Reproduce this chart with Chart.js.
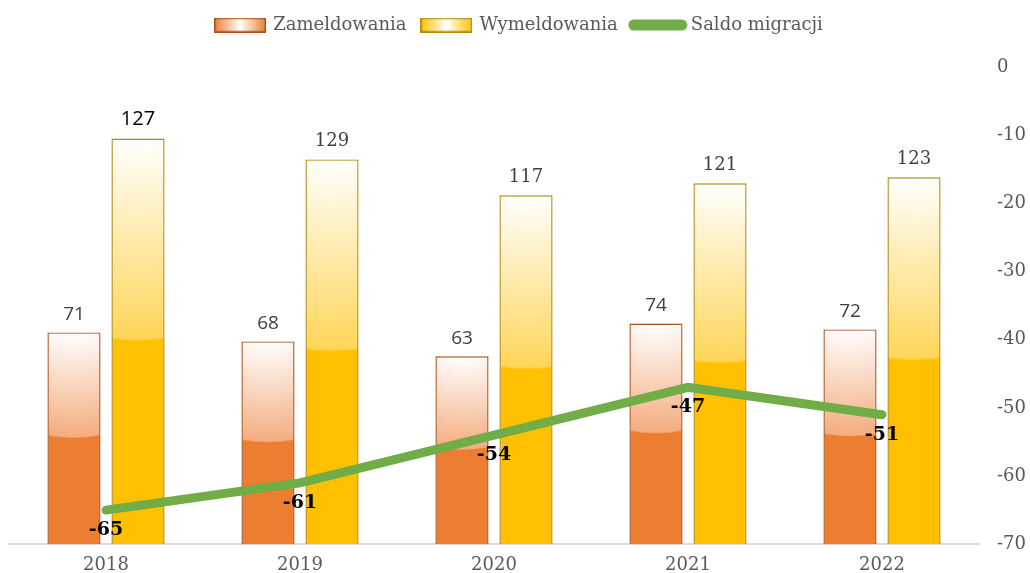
<!DOCTYPE html>
<html>
<head>
<meta charset="utf-8">
<script src="https://cdn.jsdelivr.net/npm/chart.js@4"></script>
<style>
    html, body { margin: 0; padding: 0; background: #fff; }
    #wrap { width: 1030px; height: 573px; }
</style>
</head>
<body>
<div id="wrap"><canvas id="migrationChart"></canvas></div>
<script>
// ===== Data =====
const years = ['2018', '2019', '2020', '2021', '2022'];
const zameldowania = [71, 68, 63, 74, 72];
// first bar is drawn taller than its label in the original
const wymeldowania = [136, 129, 117, 121, 123];
const wymeldowaniaLabels = ['127', '129', '117', '121', '123'];
const saldo = [-65, -61, -54, -47, -51];
const saldoTicks = [0, -10, -20, -30, -40, -50, -60, -70];

const ORANGE = '#ED7D31';
const YELLOW = '#FFC000';
const GREEN = '#70AD47';
const SERIF = '"DejaVu Serif", serif';

// white -> tint in the upper half, solid colour in the lower half
function barFill(solid, tint) {
    return function (c) {
        const el = c.element;
        if (!el || el.x === undefined || el.base === undefined) return solid;
        const h = Math.max(1, (el.base - el.y) / 2);
        const k = 40;
        const g = c.chart.ctx.createRadialGradient(el.x, el.y - k, k, el.x, el.y - k, k + h);
        g.addColorStop(0, '#ffffff');
        g.addColorStop(0.985, tint);
        g.addColorStop(1, solid);
        return g;
    };
}

function legendBox(solid, border) {
    const c = document.createElement('canvas');
    c.width = 52; c.height = 15;
    const x = c.getContext('2d');
    const g = x.createLinearGradient(0, 0, 52, 0);
    g.addColorStop(0, solid);
    g.addColorStop(0.5, '#ffffff');
    g.addColorStop(1, solid);
    x.fillStyle = g;
    x.fillRect(0, 0, 52, 15);
    x.strokeStyle = border;
    x.lineWidth = 1.5;
    x.strokeRect(0.75, 0.75, 50.5, 13.5);
    return c;
}

function legendLine() {
    const c = document.createElement('canvas');
    c.width = 60; c.height = 12;
    const x = c.getContext('2d');
    x.strokeStyle = GREEN;
    x.lineWidth = 11;
    x.lineCap = 'round';
    x.beginPath();
    x.moveTo(6, 6);
    x.lineTo(54, 6);
    x.stroke();
    return c;
}

const valueLabels = {
    id: 'valueLabels',
    afterDatasetsDraw(chart) {
        const ctx = chart.ctx;
        ctx.save();
        ctx.textAlign = 'center';
        ctx.textBaseline = 'middle';
        chart.data.datasets.forEach((ds, di) => {
            const meta = chart.getDatasetMeta(di);
            meta.data.forEach((el, i) => {
                const lab = ds.labelStyle(i);
                ctx.font = lab.font;
                ctx.fillStyle = lab.color;
                ctx.fillText(lab.text, el.x, el.y + lab.dy);
            });
        });
        ctx.restore();
    }
};

const ctx = document.getElementById('migrationChart').getContext('2d');
const chart = new Chart(ctx, {
    data: {
        labels: years,
        datasets: [
            {
                type: 'bar',
                label: 'Zameldowania',
                data: zameldowania,
                yAxisID: 'y',
                order: 1,
                backgroundColor: barFill(ORANGE, '#F4AD80'),
                borderColor: '#A9501A',
                borderWidth: 1.4,
                categoryPercentage: 0.66,
                barPercentage: 0.83,
                pointStyle: legendBox(ORANGE, '#A9501A'),
                labelStyle: i => ({ text: String(zameldowania[i]), font: '19px "Open Sans", sans-serif', color: '#404040', dy: -18 })
            },
            {
                type: 'bar',
                label: 'Wymeldowania',
                data: wymeldowania,
                yAxisID: 'y',
                order: 1,
                backgroundColor: barFill(YELLOW, '#FFD65A'),
                borderColor: '#B08A10',
                borderWidth: 1.4,
                categoryPercentage: 0.66,
                barPercentage: 0.83,
                pointStyle: legendBox(YELLOW, '#B08A10'),
                labelStyle: i => i === 0
                    ? { text: wymeldowaniaLabels[i], font: '20px "Open Sans", sans-serif', color: '#000000', dy: -19 }
                    : { text: wymeldowaniaLabels[i], font: '18px ' + SERIF, color: '#404040', dy: -18 }
            },
            {
                type: 'line',
                label: 'Saldo migracji',
                data: saldo,
                yAxisID: 'y2',
                order: 0,
                borderColor: GREEN,
                backgroundColor: GREEN,
                borderWidth: 9,
                borderCapStyle: 'round',
                borderJoinStyle: 'miter',
                pointRadius: 0,
                pointHoverRadius: 0,
                tension: 0,
                pointStyle: legendLine(),
                labelStyle: i => ({ text: String(saldo[i]), font: 'bold 19px ' + SERIF, color: '#000000', dy: 20 })
            }
        ]
    },
    options: {
        responsive: true,
        maintainAspectRatio: false,
        animation: false,
        layout: { padding: { left: 9, right: 0, top: 0, bottom: 0 } },
        plugins: {
            tooltip: { enabled: false },
            legend: {
                position: 'top',
                labels: {
                    usePointStyle: true,
                    pointStyleWidth: 48,
                    padding: 16,
                    color: '#595959',
                    font: { family: SERIF, size: 18 },
                    sort: (a, b) => a.datasetIndex - b.datasetIndex
                }
            },
            // empty spacer between legend and plot area
            title: {
                display: true,
                text: '',
                position: 'top',
                weight: 500,
                font: { size: 10 },
                padding: { top: 0, bottom: 11 }
            }
        },
        scales: {
            x: {
                grid: { display: false },
                border: { display: true, color: '#D9D9D9', width: 2 },
                ticks: { color: '#595959', font: { family: SERIF, size: 18 }, padding: 2 },
                afterFit: s => { s.height = 28; }
            },
            y: {
                display: false,
                min: 0,
                max: 160
            },
            y2: {
                position: 'right',
                min: Math.min(...saldoTicks),
                max: Math.max(...saldoTicks),
                grid: { display: false, drawTicks: false },
                border: { display: false },
                afterBuildTicks: s => { s.ticks = saldoTicks.map(v => ({ value: v })); },
                ticks: { color: '#595959', font: { family: SERIF, size: 18 }, padding: 18, crossAlign: 'near' },
                afterFit: s => { s.width = 51; }
            }
        }
    },
    plugins: [valueLabels]
});
// second pass so the bar gradients can read the laid-out bar positions
chart.update();
</script>
</body>
</html>
